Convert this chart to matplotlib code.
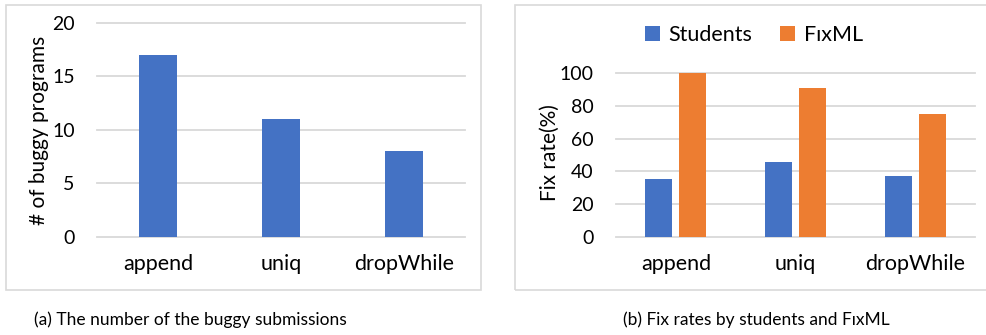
import matplotlib
matplotlib.use("Agg")
import matplotlib.pyplot as plt
import numpy as np
from matplotlib.patches import Rectangle

plt.rcParams["font.family"] = ["Lato", "DejaVu Sans"]

CATEGORIES = ["append", "uniq", "dropWhile"]
BUGGY_COUNTS = [17, 11, 8]
STUDENTS_RATE = [35.3, 45.5, 37.5]
FIXML_RATE = [100, 90.9, 75]
LEGEND_LABELS = ["Students", "F\u026axML"]
CAPTIONS = ["(a) The number of the buggy submissions",
            "(b) Fix rates by students and F\u026axML"]

BLUE = "#4472C4"
ORANGE = "#ED7D31"
GRID = "#D9D9D9"
W, H = 986, 335


def px(x0, y0, x1, y1):
    """pixel box (top-left origin) -> figure fraction [l, b, w, h]"""
    return [x0 / W, 1 - y1 / H, (x1 - x0) / W, (y1 - y0) / H]


def style(ax, ylim, yticks):
    ax.set_xlim(-0.5, len(CATEGORIES) - 0.5)
    ax.set_ylim(*ylim)
    ax.set_yticks(yticks)
    ax.set_xticks(range(len(CATEGORIES)))
    ax.set_xticklabels(CATEGORIES, fontsize=15.5)
    for s in ax.spines.values():
        s.set_visible(False)
    ax.grid(axis="y", color=GRID, lw=1.3, zorder=0)
    ax.set_axisbelow(True)
    ax.tick_params(length=0, colors="black")
    ax.tick_params(axis="x", pad=12)
    ax.tick_params(axis="y", pad=16, labelsize=14)
    for gl in ax.get_ygridlines():
        gl.set_clip_on(False)


fig = plt.figure(figsize=(W / 100, H / 100), dpi=100)

# panel borders
fig.patches.append(Rectangle((6 / W, 1 - 290 / H), 475 / W, 285 / H,
                             transform=fig.transFigure, fill=False,
                             ec=GRID, lw=1.2))
fig.patches.append(Rectangle((515 / W, 1 - 290 / H), 475 / W, 285 / H,
                             transform=fig.transFigure, fill=False,
                             ec=GRID, lw=1.2))

# (a)
ax1 = fig.add_axes(px(97, 22.7, 465, 237))
x = np.arange(len(CATEGORIES))
ax1.bar(x, BUGGY_COUNTS, width=0.31, color=BLUE, zorder=2)
style(ax1, (0, 20), [0, 5, 10, 15, 20])
fig.text(39 / W, 1 - 130 / H, "# of buggy programs", rotation=90,
         ha="center", va="center", fontsize=15)

# (b)
ax2 = fig.add_axes(px(616, 73, 975, 237))
ax2.bar(x - 0.142, STUDENTS_RATE, width=0.225, color=BLUE, zorder=2,
        label=LEGEND_LABELS[0])
ax2.bar(x + 0.142, FIXML_RATE, width=0.225, color=ORANGE, zorder=2,
        label=LEGEND_LABELS[1])
style(ax2, (0, 100), [0, 20, 40, 60, 80, 100])
fig.text(550 / W, 1 - 153 / H, "Fix rate(%)", rotation=90,
         ha="center", va="center", fontsize=15)
fig.legend(loc="center", bbox_to_anchor=(754 / W, 1 - 35 / H), ncol=2,
           frameon=False, fontsize=15.5, handlelength=0.7,
           handleheight=0.7, handletextpad=0.4, columnspacing=1.3)

# captions
fig.text(190 / W, 1 - 320 / H, CAPTIONS[0], ha="center", va="center",
         fontsize=12.5)
fig.text(756 / W, 1 - 320 / H, CAPTIONS[1], ha="center", va="center",
         fontsize=12.5)

fig.savefig("out.png", dpi=100)
